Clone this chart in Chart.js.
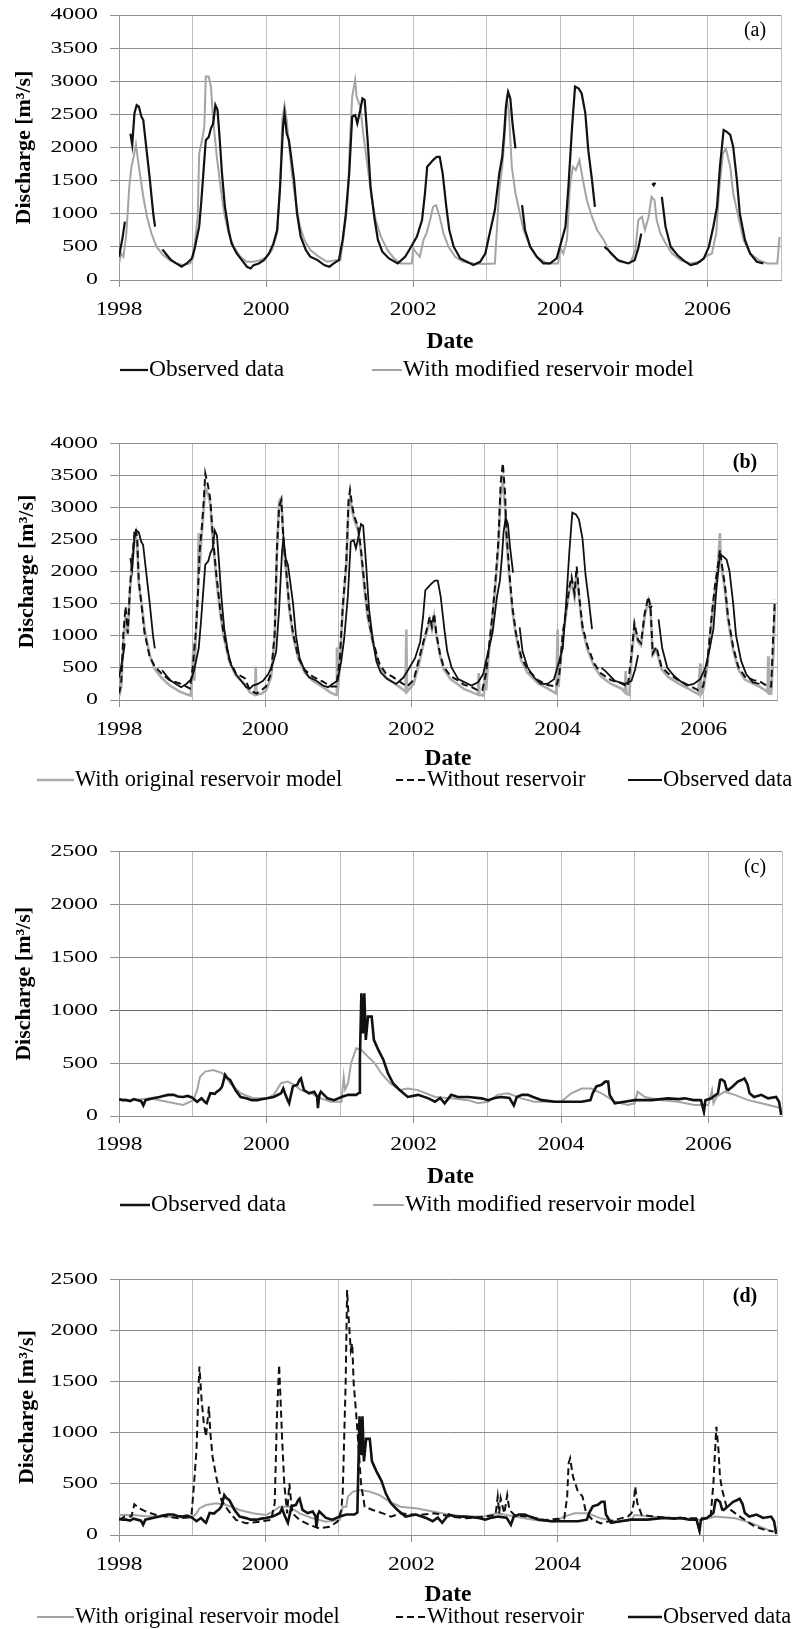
<!DOCTYPE html>
<html>
<head>
<meta charset="utf-8">
<script src="https://cdn.jsdelivr.net/npm/chart.js@4.4.1/dist/chart.umd.min.js"></script>
<style>
  html, body { margin: 0; padding: 0; background: #fff; overflow: hidden; }
  #wrap { position: relative; width: 798px; height: 1629px; }
  canvas { position: absolute; left: 0; }
</style>
</head>
<body>
<div id="wrap">
  <canvas id="panelA" width="798" height="395" style="top:0px"></canvas>
  <canvas id="panelB" width="798" height="405" style="top:395px"></canvas>
  <canvas id="panelC" width="798" height="420" style="top:800px"></canvas>
  <canvas id="panelD" width="798" height="409" style="top:1220px"></canvas>
</div>
<script>
// ---- data: [decimal year, discharge m3/s], null = gap in record ----

// upper station, observed (panels a and b)
const observedUpper = [
  [1998.00,350],[1998.05,650],[1998.08,880],[1998.085,null],
  [1998.155,2210],[1998.18,2040],[1998.21,2515],[1998.24,2640],[1998.27,2615],[1998.305,2465],[1998.33,2415],
  [1998.37,2010],[1998.42,1510],[1998.465,1005],[1998.49,805],[1998.50,null],
  [1998.59,463],[1998.65,377],[1998.71,300],[1998.78,250],[1998.85,200],[1998.92,250],[1998.99,325],
  [1999.03,480],[1999.09,805],[1999.12,1200],[1999.16,1810],[1999.18,2110],[1999.22,2160],[1999.25,2290],
  [1999.28,2360],[1999.31,2640],[1999.34,2565],[1999.37,2110],[1999.40,1610],[1999.44,1105],[1999.49,755],
  [1999.53,553],[1999.60,400],[1999.67,300],[1999.74,200],[1999.79,175],[1999.83,225],[1999.90,250],
  [1999.97,300],[2000.04,400],[2000.10,553],[2000.15,755],[2000.19,1410],[2000.23,2315],[2000.25,2515],
  [2000.28,2210],[2000.31,2110],[2000.34,1860],[2000.38,1510],[2000.42,1005],[2000.47,655],[2000.54,453],
  [2000.60,352],[2000.70,300],[2000.79,225],[2000.86,200],[2000.92,250],[2000.99,300],[2001.04,605],
  [2001.08,955],[2001.13,1610],[2001.17,2465],[2001.21,2490],[2001.24,2365],[2001.28,2565],[2001.31,2740],
  [2001.34,2715],[2001.38,2110],[2001.42,1410],[2001.47,955],[2001.52,605],[2001.58,428],[2001.67,325],
  [2001.79,250],[2001.89,350],[2001.96,480],[2002.05,655],[2002.12,905],[2002.16,1310],[2002.19,1710],
  [2002.23,1760],[2002.27,1810],[2002.32,1860],[2002.36,1860],[2002.40,1610],[2002.45,1105],[2002.49,755],
  [2002.55,503],[2002.64,325],[2002.73,275],[2002.82,225],[2002.91,275],[2002.98,400],[2003.04,705],
  [2003.11,1055],[2003.17,1610],[2003.21,1860],[2003.24,2265],[2003.26,2615],[2003.29,2840],[2003.32,2740],
  [2003.35,2365],[2003.39,1985],[2003.40,null],
  [2003.48,1130],[2003.52,755],[2003.59,503],[2003.68,350],[2003.77,250],[2003.86,250],[2003.95,325],
  [2004.02,605],[2004.07,805],[2004.11,1410],[2004.16,2315],[2004.20,2920],[2004.25,2890],[2004.29,2815],
  [2004.34,2515],[2004.38,1960],[2004.43,1510],[2004.47,1105],[2004.48,null],
  [2004.60,500],[2004.65,453],[2004.78,300],[2004.92,250],[2005.01,300],[2005.06,480],[2005.10,700],[2005.11,null],
  [2005.25,1460],[2005.27,1430],[2005.29,1470],[2005.30,null],
  [2005.38,1255],[2005.43,805],[2005.50,503],[2005.59,377],[2005.67,300],[2005.77,225],[2005.86,250],
  [2005.95,325],[2006.02,503],[2006.08,805],[2006.13,1105],[2006.17,1710],[2006.22,2265],[2006.26,2240],
  [2006.31,2190],[2006.35,2010],[2006.40,1510],[2006.44,1005],[2006.51,605],[2006.58,400],[2006.67,275],
  [2006.76,250]
];

// upper station, modified reservoir model (panel a)
const modifiedUpper = [
  [1998.00,250],[1998.03,400],[1998.06,350],[1998.10,705],[1998.14,1410],[1998.17,1710],[1998.20,1860],
  [1998.23,2050],[1998.27,1710],[1998.33,1260],[1998.38,955],[1998.44,705],[1998.51,503],[1998.60,377],
  [1998.69,300],[1998.78,250],[1998.87,225],[1998.97,250],[1999.01,350],[1999.07,955],[1999.09,1910],
  [1999.12,2060],[1999.16,2315],[1999.18,3070],[1999.22,3070],[1999.25,2920],[1999.28,2415],[1999.33,1860],
  [1999.38,1410],[1999.43,1005],[1999.49,705],[1999.56,503],[1999.65,350],[1999.74,275],[1999.83,275],
  [1999.92,300],[2000.01,350],[2000.08,453],[2000.15,705],[2000.19,1410],[2000.22,2415],[2000.25,2640],
  [2000.28,2415],[2000.31,2060],[2000.35,1610],[2000.40,1205],[2000.46,805],[2000.52,605],[2000.60,453],
  [2000.72,350],[2000.83,275],[2000.95,300],[2001.01,300],[2001.06,705],[2001.11,1205],[2001.14,2110],
  [2001.17,2765],[2001.21,3020],[2001.23,2765],[2001.28,2615],[2001.32,2215],[2001.38,1710],[2001.43,1260],
  [2001.49,905],[2001.56,655],[2001.65,453],[2001.74,325],[2001.83,250],[2001.91,250],[2001.98,250],
  [2002.00,480],[2002.05,400],[2002.09,350],[2002.14,605],[2002.18,705],[2002.23,905],[2002.27,1105],
  [2002.31,1130],[2002.36,955],[2002.41,705],[2002.48,503],[2002.57,350],[2002.68,275],[2002.82,250],
  [2002.95,240],[2003.11,250],[2003.14,805],[2003.17,1360],[2003.21,1710],[2003.24,2110],[2003.27,2715],
  [2003.30,2565],[2003.34,1710],[2003.39,1310],[2003.43,1105],[2003.50,755],[2003.59,503],[2003.68,350],
  [2003.82,250],[2003.97,250],[2004.00,480],[2004.04,400],[2004.09,605],[2004.13,1410],[2004.17,1710],
  [2004.21,1660],[2004.26,1810],[2004.29,1610],[2004.36,1205],[2004.43,955],[2004.50,755],[2004.59,605],
  [2004.68,400],[2004.81,275],[2004.95,250],[2005.02,453],[2005.06,905],[2005.11,955],[2005.15,755],
  [2005.20,955],[2005.24,1255],[2005.28,1205],[2005.31,905],[2005.36,705],[2005.43,553],[2005.52,400],
  [2005.63,300],[2005.77,250],[2005.90,275],[2005.97,350],[2006.06,400],[2006.12,705],[2006.16,1360],
  [2006.21,1910],[2006.25,1985],[2006.31,1710],[2006.35,1310],[2006.42,955],[2006.49,605],[2006.58,400],
  [2006.70,300],[2006.81,250],[2006.95,250],[2006.98,650]
];

// upper station, original reservoir model (panel b)
const originalUpper = [
  [1998.00,50],[1998.03,200],[1998.06,900],[1998.09,1300],[1998.12,1000],[1998.15,1700],[1998.18,2100],
  [1998.21,2500],[1998.23,2600],[1998.25,2400],[1998.27,1800],[1998.31,1500],[1998.35,1100],[1998.42,700],
  [1998.49,480],[1998.58,350],[1998.69,230],[1998.83,130],[1998.92,90],[1998.98,70],[1999.00,350],
  [1999.02,900],[1999.03,300],[1999.05,1000],[1999.08,1700],[1999.09,2600],[1999.10,2000],[1999.13,2550],
  [1999.16,3000],[1999.18,3300],[1999.22,3200],[1999.25,3050],[1999.28,2550],[1999.33,1900],[1999.38,1400],
  [1999.43,1000],[1999.51,600],[1999.60,380],[1999.72,250],[1999.79,120],[1999.86,80],[1999.87,520],
  [1999.88,80],[1999.95,100],[2000.01,150],[2000.08,350],[2000.13,1000],[2000.16,2300],[2000.19,3100],
  [2000.22,3150],[2000.25,2450],[2000.29,1950],[2000.33,1400],[2000.38,1000],[2000.45,650],[2000.54,430],
  [2000.65,300],[2000.79,200],[2000.90,110],[2000.97,80],[2000.98,820],[2000.99,100],[2001.02,550],
  [2001.06,1400],[2001.11,2100],[2001.14,3050],[2001.16,3150],[2001.19,2950],[2001.22,2800],[2001.27,2650],
  [2001.31,2300],[2001.36,1700],[2001.40,1300],[2001.47,900],[2001.56,520],[2001.65,350],[2001.74,280],
  [2001.84,200],[2001.92,130],[2001.93,1100],[2001.94,130],[2002.03,250],[2002.10,550],[2002.17,900],
  [2002.22,1100],[2002.25,1250],[2002.28,1100],[2002.31,1300],[2002.34,1000],[2002.39,700],[2002.44,480],
  [2002.54,320],[2002.63,250],[2002.72,170],[2002.81,130],[2002.91,80],[2002.92,420],[2002.93,80],
  [2002.99,70],[2003.01,600],[2003.02,150],[2003.06,750],[2003.11,1300],[2003.15,1800],[2003.19,2400],
  [2003.22,3200],[2003.25,3400],[2003.28,3000],[2003.30,2500],[2003.34,1900],[2003.38,1400],[2003.43,1000],
  [2003.50,620],[2003.59,420],[2003.73,260],[2003.86,180],[2003.98,100],[2004.00,1100],[2004.01,200],
  [2004.07,1000],[2004.11,1300],[2004.16,1700],[2004.19,1850],[2004.23,1600],[2004.26,2000],[2004.30,1500],
  [2004.34,1100],[2004.41,780],[2004.50,520],[2004.59,370],[2004.73,250],[2004.87,180],[2004.92,120],
  [2004.93,450],[2004.94,100],[2004.98,80],[2005.01,650],[2005.05,1150],[2005.10,900],[2005.14,850],
  [2005.19,1300],[2005.24,1550],[2005.27,1400],[2005.30,700],[2005.35,780],[2005.42,480],[2005.51,360],
  [2005.65,260],[2005.78,180],[2005.92,90],[2005.95,570],[2005.96,90],[2005.99,150],[2006.05,550],
  [2006.11,1300],[2006.15,1700],[2006.19,2050],[2006.22,2600],[2006.23,2200],[2006.25,2000],[2006.29,1700],
  [2006.33,1250],[2006.40,780],[2006.47,480],[2006.56,320],[2006.68,250],[2006.77,200],[2006.84,150],
  [2006.87,120],[2006.88,680],[2006.89,100],[2006.92,100],[2006.95,700],[2006.97,1450]
];

// upper station, without reservoir (panel b)
const withoutUpper = [
  [1998.00,100],[1998.03,260],[1998.06,1040],[1998.09,1455],[1998.12,1040],[1998.15,1765],[1998.18,2180],
  [1998.21,2600],[1998.23,2675],[1998.25,2495],[1998.27,1870],[1998.31,1455],[1998.35,1040],[1998.42,675],
  [1998.49,520],[1998.58,415],[1998.69,310],[1998.83,260],[1998.92,210],[1998.97,180],[1999.01,520],
  [1999.05,1040],[1999.08,1660],[1999.10,2285],[1999.13,2650],[1999.16,3115],[1999.18,3530],[1999.22,3325],
  [1999.25,3115],[1999.28,2600],[1999.33,1975],[1999.38,1455],[1999.43,1040],[1999.51,625],[1999.60,415],
  [1999.72,340],[1999.79,155],[1999.88,100],[1999.95,155],[2000.01,210],[2000.08,415],[2000.13,1040],
  [2000.16,2340],[2000.19,3015],[2000.22,3115],[2000.25,2495],[2000.29,1975],[2000.33,1455],[2000.38,1040],
  [2000.45,675],[2000.54,470],[2000.65,365],[2000.79,285],[2000.90,210],[2000.97,210],[2001.02,625],
  [2001.06,1455],[2001.11,2180],[2001.14,3115],[2001.16,3275],[2001.19,3015],[2001.22,2855],[2001.27,2700],
  [2001.31,2340],[2001.36,1765],[2001.40,1350],[2001.47,935],[2001.56,570],[2001.65,415],[2001.74,365],
  [2001.84,285],[2001.94,210],[2002.03,310],[2002.10,625],[2002.17,935],[2002.22,1145],[2002.25,1300],
  [2002.28,1145],[2002.31,1350],[2002.34,1040],[2002.39,725],[2002.44,520],[2002.54,365],[2002.63,310],
  [2002.72,235],[2002.81,210],[2002.90,155],[2002.97,155],[2003.02,415],[2003.06,830],[2003.11,1350],
  [2003.15,1870],[2003.19,2495],[2003.22,3375],[2003.25,3690],[2003.28,3220],[2003.30,2600],[2003.34,1975],
  [2003.38,1455],[2003.43,1040],[2003.50,675],[2003.59,470],[2003.73,310],[2003.86,235],[2003.98,210],
  [2004.02,365],[2004.07,1040],[2004.11,1350],[2004.16,1765],[2004.19,1920],[2004.23,1660],[2004.26,2080],
  [2004.30,1560],[2004.34,1145],[2004.41,830],[2004.50,570],[2004.59,415],[2004.73,310],[2004.87,260],
  [2004.96,210],[2005.01,725],[2005.05,1195],[2005.10,935],[2005.14,885],[2005.19,1350],[2005.24,1610],
  [2005.27,1455],[2005.30,725],[2005.35,830],[2005.42,520],[2005.51,415],[2005.65,310],[2005.78,235],
  [2005.92,155],[2005.99,210],[2006.05,625],[2006.11,1350],[2006.15,1765],[2006.19,2080],[2006.22,2340],
  [2006.25,2080],[2006.29,1765],[2006.33,1300],[2006.40,830],[2006.47,520],[2006.56,365],[2006.68,310],
  [2006.77,285],[2006.84,235],[2006.88,210],[2006.92,210],[2006.94,780],[2006.97,1560]
];

// lower station, observed (panels c and d)
const observedLower = [
  [1998.00,158],[1998.05,150],[1998.10,150],[1998.15,140],[1998.20,160],[1998.30,140],[1998.33,100],
  [1998.36,150],[1998.46,167],[1998.55,180],[1998.60,190],[1998.67,200],[1998.74,200],[1998.80,185],
  [1998.87,180],[1998.93,190],[1998.99,175],[1999.06,135],[1999.12,167],[1999.17,130],[1999.19,120],
  [1999.24,215],[1999.30,210],[1999.33,230],[1999.37,250],[1999.40,280],[1999.44,390],[1999.47,360],
  [1999.51,340],[1999.58,245],[1999.65,180],[1999.74,165],[1999.80,150],[1999.88,150],[1999.95,160],
  [2000.01,167],[2000.10,180],[2000.20,215],[2000.23,260],[2000.26,200],[2000.29,150],[2000.31,120],
  [2000.36,280],[2000.42,295],[2000.45,340],[2000.47,355],[2000.51,245],[2000.58,215],[2000.65,230],
  [2000.69,180],[2000.70,75],[2000.72,200],[2000.74,230],[2000.83,167],[2000.92,150],[2001.02,180],
  [2001.11,200],[2001.22,200],[2001.26,220],[2001.27,530],[2001.29,1160],[2001.31,780],[2001.33,1160],
  [2001.35,720],[2001.38,940],[2001.43,940],[2001.46,720],[2001.52,625],[2001.59,530],[2001.65,405],
  [2001.72,310],[2001.81,245],[2001.92,180],[2002.06,200],[2002.20,167],[2002.29,135],[2002.36,170],
  [2002.42,120],[2002.51,200],[2002.60,180],[2002.74,180],[2002.92,167],[2003.01,150],[2003.10,170],
  [2003.19,180],[2003.30,170],[2003.36,100],[2003.40,180],[2003.47,200],[2003.55,200],[2003.62,180],
  [2003.74,150],[2003.92,135],[2004.10,135],[2004.28,135],[2004.40,150],[2004.43,215],[2004.48,280],
  [2004.55,295],[2004.60,325],[2004.64,325],[2004.66,200],[2004.73,120],[2004.86,135],[2005.00,150],
  [2005.23,150],[2005.45,167],[2005.60,160],[2005.68,167],[2005.80,150],[2005.90,150],[2005.94,40],
  [2005.96,150],[2006.04,167],[2006.13,215],[2006.16,340],[2006.18,345],[2006.22,325],[2006.25,250],
  [2006.27,245],[2006.33,280],[2006.40,325],[2006.45,340],[2006.49,355],[2006.53,300],[2006.56,215],
  [2006.62,180],[2006.72,200],[2006.81,167],[2006.92,180],[2006.96,135],[2006.99,10]
];

// lower station, modified reservoir model (panel c)
const modifiedLower = [
  [1998.00,158],[1998.19,150],[1998.42,167],[1998.65,135],[1998.87,105],[1999.01,150],[1999.06,245],
  [1999.10,372],[1999.17,420],[1999.28,435],[1999.40,405],[1999.51,310],[1999.65,215],[1999.83,167],
  [2000.01,167],[2000.10,200],[2000.20,310],[2000.29,325],[2000.38,295],[2000.47,245],[2000.61,215],
  [2000.74,167],[2000.88,135],[2001.02,135],[2001.05,372],[2001.07,250],[2001.11,310],[2001.15,500],
  [2001.22,640],[2001.29,625],[2001.38,560],[2001.47,500],[2001.56,405],[2001.68,310],[2001.81,245],
  [2001.92,260],[2002.06,245],[2002.29,180],[2002.51,167],[2002.74,150],[2002.87,120],[2003.01,135],
  [2003.14,200],[2003.28,215],[2003.46,167],[2003.64,135],[2003.82,135],[2004.00,135],[2004.14,215],
  [2004.28,260],[2004.41,260],[2004.55,215],[2004.73,135],[2004.91,105],[2005.00,120],[2005.04,230],
  [2005.14,180],[2005.36,150],[2005.59,135],[2005.81,105],[2006.00,105],[2006.05,245],[2006.07,120],
  [2006.11,180],[2006.22,230],[2006.36,200],[2006.54,150],[2006.72,120],[2006.90,90],[2006.99,72]
];

// lower station, original reservoir model (panel d)
const originalLower = [
  [1998.00,195],[1998.19,195],[1998.42,180],[1998.65,180],[1998.99,163],[1999.06,212],[1999.10,260],
  [1999.19,293],[1999.33,310],[1999.47,293],[1999.65,245],[1999.83,212],[2000.01,195],[2000.10,228],
  [2000.20,277],[2000.33,277],[2000.47,212],[2000.65,163],[2000.83,130],[2001.02,147],[2001.06,277],
  [2001.11,277],[2001.13,375],[2001.20,424],[2001.29,440],[2001.43,424],[2001.56,391],[2001.70,326],
  [2001.85,277],[2002.08,260],[2002.31,228],[2002.54,195],[2002.76,180],[2002.99,180],[2003.18,212],
  [2003.41,180],[2003.68,147],[2003.95,130],[2004.09,180],[2004.23,212],[2004.41,212],[2004.59,163],
  [2004.82,130],[2005.01,147],[2005.05,195],[2005.28,180],[2005.51,163],[2005.74,163],[2005.97,147],
  [2006.15,180],[2006.43,163],[2006.66,114],[2006.88,49],[2006.97,33]
];

// lower station, without reservoir (panel d)
const withoutLower = [
  [1998.00,147],[1998.08,180],[1998.17,180],[1998.21,300],[1998.28,260],[1998.37,228],[1998.51,195],
  [1998.65,180],[1998.83,163],[1998.99,180],[1999.02,440],[1999.06,831],[1999.09,1483],[1999.10,1646],
  [1999.13,1320],[1999.16,1092],[1999.19,962],[1999.23,1255],[1999.25,994],[1999.28,766],[1999.33,570],
  [1999.40,342],[1999.49,245],[1999.60,147],[1999.74,114],[1999.92,130],[2000.08,147],[2000.13,310],
  [2000.16,1157],[2000.19,1663],[2000.21,1320],[2000.23,962],[2000.26,505],[2000.30,212],[2000.33,505],
  [2000.37,212],[2000.47,147],[2000.61,98],[2000.74,65],[2000.88,81],[2000.99,130],[2001.04,245],
  [2001.06,408],[2001.10,1483],[2001.12,2396],[2001.14,2135],[2001.17,1809],[2001.19,1875],[2001.21,1483],
  [2001.24,1222],[2001.28,831],[2001.31,505],[2001.36,277],[2001.47,245],[2001.61,212],[2001.72,180],
  [2001.85,212],[2002.08,195],[2002.31,212],[2002.54,180],[2002.76,163],[2002.99,180],[2003.15,195],
  [2003.18,375],[2003.20,212],[2003.22,359],[2003.27,212],[2003.31,391],[2003.34,245],[2003.41,195],
  [2003.59,180],[2003.82,147],[2004.09,163],[2004.13,375],[2004.15,701],[2004.17,750],[2004.21,570],
  [2004.24,505],[2004.27,440],[2004.34,375],[2004.39,212],[2004.48,147],[2004.59,114],[2004.78,147],
  [2004.96,180],[2005.01,212],[2005.04,310],[2005.06,473],[2005.09,310],[2005.15,195],[2005.33,180],
  [2005.60,163],[2005.86,163],[2006.09,163],[2006.13,505],[2006.17,1059],[2006.20,831],[2006.22,570],
  [2006.25,440],[2006.31,277],[2006.43,212],[2006.56,147],[2006.70,81],[2006.84,49],[2006.95,33]
];

const LABELS = {
  observed: "Observed data",
  modified: "With modified reservoir model",
  original: "With original reservoir model",
  without: "Without reservoir",
};

const BLACK = "#111111";
const GREY = "#a4a4a4";
const H_GRID = "#8e8e8e";
const V_GRID = "#bdbdbd";
const SERIF = '"Liberation Serif", "Times New Roman", serif';

const pts = s => s.map(([x, y]) => ({ x, y }));

// tick labels (stretched like the exported figure), panel tag and line legend
const decor = {
  id: "decor",
  afterDraw(chart, args, o) {
    const { ctx } = chart;
    const { x, y } = chart.scales;
    ctx.save();
    ctx.fillStyle = "#000";
    ctx.textBaseline = "middle";

    ctx.font = "17px " + SERIF;
    ctx.textAlign = "right";
    y.ticks.forEach(t => {
      ctx.save();
      ctx.translate(98, y.getPixelForValue(t.value));
      ctx.scale(1.4, 1);
      ctx.fillText(String(t.value), 0, 0);
      ctx.restore();
    });

    ctx.font = "19px " + SERIF;
    ctx.textAlign = "center";
    x.ticks.forEach(t => {
      if (t.value % 2 !== 0) return;
      ctx.save();
      ctx.translate(x.getPixelForValue(t.value), o.yearY);
      ctx.scale(1.23, 1);
      ctx.fillText(String(t.value), 0, 0);
      ctx.restore();
    });

    ctx.font = o.tagFont;
    ctx.fillText(o.tag, o.tagX, o.tagY);

    ctx.font = o.legendSize + "px " + SERIF;
    ctx.textAlign = "left";
    o.legend.forEach(item => {
      const ds = chart.data.datasets[item.ds];
      ctx.save();
      ctx.strokeStyle = ds.borderColor;
      ctx.lineWidth = Math.min(ds.borderWidth, 2.5);
      ctx.setLineDash(ds.borderDash || []);
      ctx.beginPath();
      ctx.moveTo(item.x0, o.legendY);
      ctx.lineTo(item.x1, o.legendY);
      ctx.stroke();
      ctx.restore();
      ctx.fillText(ds.label, item.x1 + 1, o.legendY);
    });
    ctx.restore();
  },
};

function makePanel(id, p) {
  const el = document.getElementById(id);
  const H = el.height;
  return new Chart(el, {
    type: "line",
    data: { datasets: p.datasets },
    options: {
      responsive: false,
      animation: false,
      devicePixelRatio: 1,
      layout: { padding: { top: p.plotTop, right: 798 - p.plotRight, bottom: 0, left: 0 } },
      elements: { point: { radius: 0 }, line: { tension: 0 } },
      plugins: {
        legend: { display: false },
        tooltip: { enabled: false },
        decor: p.decor,
      },
      scales: {
        x: {
          type: "linear",
          min: 1998,
          max: 2007,
          ticks: { stepSize: 1, display: false },
          grid: {
            color: V_GRID,
            tickLength: 7,
            tickColor: c => (c.tick && c.tick.value % 2 === 0 ? H_GRID : "rgba(0,0,0,0)"),
          },
          border: { color: H_GRID },
          title: {
            display: true,
            text: "Date",
            color: "#000",
            font: { family: SERIF, size: 23.5, weight: "bold" },
            padding: { top: 0, bottom: H - p.dateY - 14.1 },
          },
          afterFit: s => { s.height = H - p.plotBottom; },
        },
        y: {
          min: 0,
          max: p.yMax,
          ticks: { stepSize: 500, display: false },
          grid: {
            color: c => (p.darkLine && c.tick && c.tick.value === p.darkLine ? "#6a6a6a" : H_GRID),
            tickLength: 9,
          },
          border: { color: "#9a9a9a" },
          title: {
            display: true,
            text: "Discharge [m³/s]",
            color: "#000",
            font: { family: SERIF, size: 22, weight: "bold" },
            padding: { top: p.yTitleX - 13.2, bottom: 0 },
          },
          afterFit: s => { s.width = 119; },
        },
      },
    },
    plugins: [decor],
  });
}

function line(label, data, color, width, order, dash) {
  return {
    label,
    data: pts(data),
    borderColor: color,
    borderWidth: width,
    borderDash: dash || [],
    spanGaps: false,
    order,
  };
}

// (a) upper station, modified model
makePanel("panelA", {
  plotTop: 15, plotBottom: 280, plotRight: 781, yMax: 4000, dateY: 342, yTitleX: 24,
  datasets: [
    line(LABELS.observed, observedUpper, BLACK, 2.2, 0),
    line(LABELS.modified, modifiedUpper, GREY, 2, 1),
  ],
  decor: {
    yearY: 310, tag: "(a)", tagX: 755, tagY: 31, tagFont: "20px " + SERIF,
    legendY: 370, legendSize: 23.5,
    legend: [{ ds: 0, x0: 120, x1: 148 }, { ds: 1, x0: 372, x1: 402 }],
  },
});

// (b) upper station, original model and no reservoir
makePanel("panelB", {
  plotTop: 48.3, plotBottom: 305, plotRight: 777, yMax: 4000, dateY: 364, yTitleX: 27,
  datasets: [
    line(LABELS.original, originalUpper, "#acacac", 2.6, 2),
    line(LABELS.without, withoutUpper, BLACK, 2, 1, [7, 4]),
    line(LABELS.observed, observedUpper, BLACK, 1.8, 0),
  ],
  decor: {
    yearY: 335, tag: "(b)", tagX: 745, tagY: 68, tagFont: "bold 20px " + SERIF,
    legendY: 385, legendSize: 22.5,
    legend: [{ ds: 0, x0: 37, x1: 74 }, { ds: 1, x0: 396, x1: 426 }, { ds: 2, x0: 628, x1: 662 }],
  },
});

// (c) lower station, modified model
makePanel("panelC", {
  plotTop: 51.7, plotBottom: 316, plotRight: 782, yMax: 2500, dateY: 377, yTitleX: 24, darkLine: 1000,
  datasets: [
    line(LABELS.observed, observedLower, BLACK, 2.6, 0),
    line(LABELS.modified, modifiedLower, GREY, 2, 1),
  ],
  decor: {
    yearY: 345, tag: "(c)", tagX: 755, tagY: 68, tagFont: "20px " + SERIF,
    legendY: 405, legendSize: 23.5,
    legend: [{ ds: 0, x0: 120, x1: 150 }, { ds: 1, x0: 373, x1: 404 }],
  },
});

// (d) lower station, original model and no reservoir
makePanel("panelD", {
  plotTop: 59.3, plotBottom: 315, plotRight: 777, yMax: 2500, dateY: 375, yTitleX: 27,
  datasets: [
    line(LABELS.original, originalLower, GREY, 2, 2),
    line(LABELS.without, withoutLower, BLACK, 2, 1, [7, 4]),
    line(LABELS.observed, observedLower, BLACK, 2.6, 0),
  ],
  decor: {
    yearY: 345, tag: "(d)", tagX: 745, tagY: 77, tagFont: "bold 20px " + SERIF,
    legendY: 397, legendSize: 22.3,
    legend: [{ ds: 0, x0: 37, x1: 74 }, { ds: 1, x0: 396, x1: 426 }, { ds: 2, x0: 628, x1: 662 }],
  },
});
</script>
</body>
</html>
